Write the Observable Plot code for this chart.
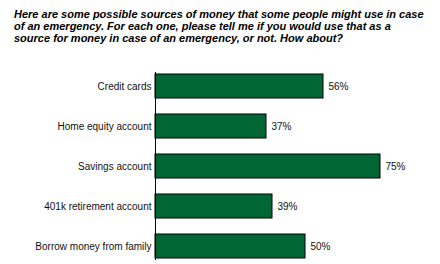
<!DOCTYPE html>
<html><head><meta charset="utf-8">
<script src="https://cdn.jsdelivr.net/npm/d3@7"></script>
<script src="https://cdn.jsdelivr.net/npm/@observablehq/plot@0.6"></script>
<style>
body{margin:0;background:#fff;width:440px;height:264px;overflow:hidden;position:relative;font-family:"Liberation Sans",Arial,sans-serif;}
#title{position:absolute;left:14px;top:8px;white-space:nowrap;font-size:11px;line-height:12px;font-weight:bold;font-style:italic;color:#000;}
#chart{position:absolute;left:0;top:60px;}
</style></head><body>
<div id="title">Here are some possible sources of money that some people might use in case<br>of an emergency. For each one, please tell me if you would use that as a<br>source for money in case of an emergency, or not. How about?</div>
<div id="chart"></div>
<script>
const categories = ["Credit cards","Home equity account","Savings account","401k retirement account","Borrow money from family"];
const values = [56,37,75,39,50];
const labels = ["56%","37%","75%","39%","50%"];
const data = categories.map((c,i)=>({c, v: values[i], l: labels[i]}));
const plot = Plot.plot({
  width: 440, height: 204,
  marginLeft: 155, marginRight: 0, marginTop: 12, marginBottom: 4,
  style: {fontFamily: '"Liberation Sans", Arial, sans-serif', fontSize: "10px", color: "#111", background: "transparent"},
  x: {domain: [0, 95], axis: null},
  y: {domain: categories, paddingInner: 0.4, paddingOuter: 0, label: null, tickSize: 0, tickPadding: 4},
  marks: [
    Plot.barX(data, {x: "v", y: "c", fill: "#006633", stroke: "#000", strokeWidth: 1}),
    Plot.ruleX([0], {stroke: "#000", strokeWidth: 1}),
    Plot.text(data, {x: "v", y: "c", text: "l", textAnchor: "start", dx: 5, fill: "#111", fontSize: 10})
  ]
});
document.getElementById("chart").appendChild(plot);
</script>
</body></html>
